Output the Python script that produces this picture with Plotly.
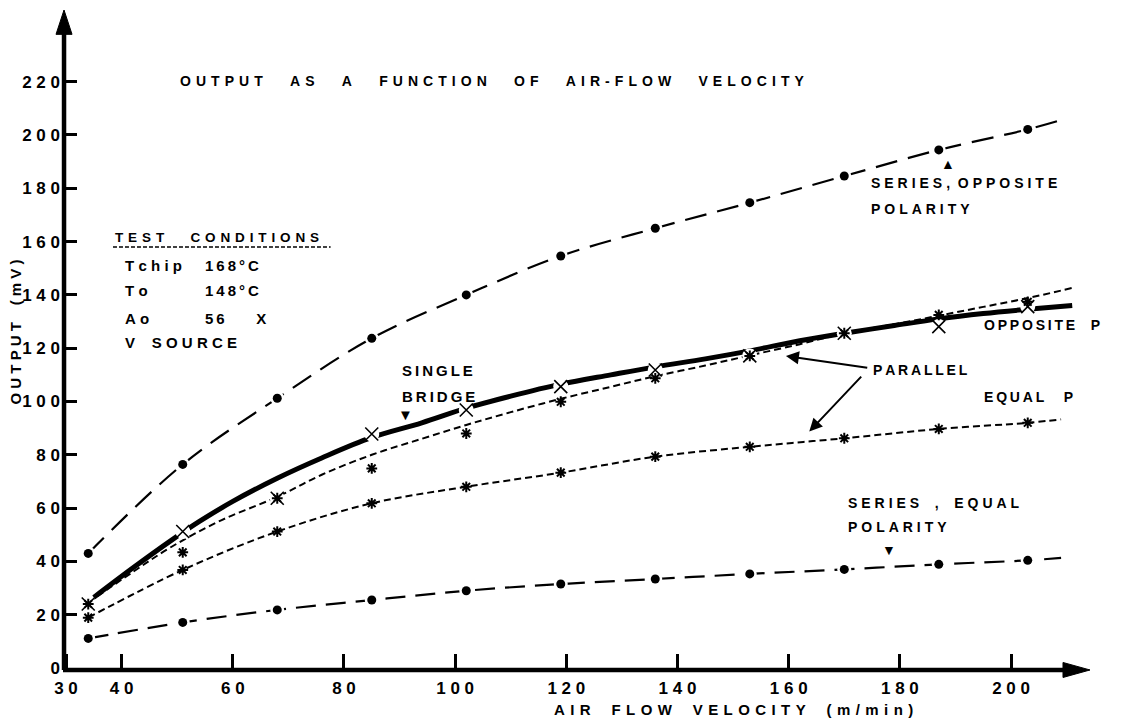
import plotly.graph_objects as go

# ---------------- data ----------------
velocity = [34, 51, 68, 85, 102, 119, 136, 153, 170, 187, 203]

series_opposite = [43.0, 76.4, 101.2, 123.7, 140.0, 154.6, 165.0, 174.6, 184.6, 194.4, 202.1]
series_equal = [11.1, 17.1, 21.8, 25.5, 29.0, 31.5, 33.4, 35.3, 37.0, 38.9, 40.4]
single_bridge = [24.0, 51.2, 63.7, 87.8, 96.8, 105.6, 111.8, 117.1, 125.6, 128.1, 135.6]
parallel_opposite = [24.0, 43.4, 63.7, 74.9, 88.0, 99.9, 108.7, 117.1, 125.6, 132.5, 137.4]
parallel_equal = [18.9, 36.8, 51.2, 61.8, 68.0, 73.3, 79.3, 83.0, 86.2, 89.7, 92.0]

# hand-drawn curves
line_end_x = 209
series_opposite_end = 205.6
series_equal_end = 41.3
parallel_equal_end = 93.3

bridge_curve_x = [35, 42, 49, 54, 60, 68, 76, 85, 94, 102, 110, 119, 128, 136, 145, 153, 162, 170, 179, 187, 195, 203, 211]
bridge_curve_y = [26.5, 37.5, 48.0, 55.0, 62.5, 71.2, 78.8, 86.5, 92.0, 97.5, 102.0, 106.5, 110.0, 113.0, 116.0, 119.0, 122.8, 125.6, 128.5, 131.0, 133.0, 134.6, 136.0]

par_opp_curve_x = [34, 42, 49, 58, 68, 76, 85, 94, 102, 110, 119, 128, 136, 145, 153, 162, 170, 179, 187, 195, 203, 211]
par_opp_curve_y = [24.5, 36.0, 45.5, 55.5, 64.2, 72.5, 80.0, 86.0, 91.2, 96.0, 101.0, 105.5, 109.5, 113.5, 117.3, 121.5, 125.6, 129.0, 132.2, 135.5, 138.8, 142.6]

x_ticks = [30, 40, 60, 80, 100, 120, 140, 160, 180, 200]
y_ticks = [0, 20, 40, 60, 80, 100, 120, 140, 160, 180, 200, 220]

FONT = "Liberation Sans, Arial, sans-serif"
THIN = "\u2009"
HAIR = "\u200a"
NB = "\u00a0"


def spaced(s, gap=THIN, word=NB * 3):
    return word.join(gap.join(list(w)) for w in s.split(" "))


fig = go.Figure()

# --- lines ---
fig.add_trace(go.Scatter(x=velocity + [line_end_x], y=series_opposite + [series_opposite_end],
                         mode="lines", line=dict(color="black", width=2.2, dash="22px,11px", shape="spline"),
                         hoverinfo="skip"))
fig.add_trace(go.Scatter(x=velocity + [line_end_x], y=series_equal + [series_equal_end],
                         mode="lines", line=dict(color="black", width=2.2, dash="20px,10px", shape="spline"),
                         hoverinfo="skip"))
fig.add_trace(go.Scatter(x=velocity + [line_end_x], y=parallel_equal + [parallel_equal_end],
                         mode="lines", line=dict(color="black", width=2, dash="7px,4px", shape="spline"),
                         hoverinfo="skip"))
fig.add_trace(go.Scatter(x=par_opp_curve_x, y=par_opp_curve_y,
                         mode="lines", line=dict(color="black", width=2, dash="7px,4px", shape="spline"),
                         hoverinfo="skip"))
fig.add_trace(go.Scatter(x=bridge_curve_x, y=bridge_curve_y,
                         mode="lines", line=dict(color="black", width=5, shape="spline"),
                         hoverinfo="skip"))

# --- white halos to break the lines at the markers ---
fig.add_trace(go.Scatter(x=velocity, y=single_bridge, mode="markers",
                         marker=dict(symbol="circle", size=15, color="white"), hoverinfo="skip"))
fig.add_trace(go.Scatter(x=velocity, y=series_opposite, mode="markers",
                         marker=dict(symbol="circle", size=14, color="white"), hoverinfo="skip"))
fig.add_trace(go.Scatter(x=velocity, y=series_equal, mode="markers",
                         marker=dict(symbol="circle", size=14, color="white"), hoverinfo="skip"))

# --- markers ---
fig.add_trace(go.Scatter(x=velocity, y=series_opposite, mode="markers", name="Series, opposite polarity",
                         marker=dict(symbol="circle", size=9, color="black")))
fig.add_trace(go.Scatter(x=velocity, y=series_equal, mode="markers", name="Series, equal polarity",
                         marker=dict(symbol="circle", size=9, color="black")))
fig.add_trace(go.Scatter(x=velocity, y=parallel_opposite, mode="markers", name="Parallel, opposite P",
                         marker=dict(symbol="asterisk", size=9, line=dict(color="black", width=2))))
fig.add_trace(go.Scatter(x=velocity, y=parallel_equal, mode="markers", name="Parallel, equal P",
                         marker=dict(symbol="asterisk", size=9, line=dict(color="black", width=2))))
fig.add_trace(go.Scatter(x=velocity, y=single_bridge, mode="markers", name="Single bridge",
                         marker=dict(symbol="x-thin", size=13, line=dict(color="black", width=1.6))))

tickfont = dict(family=FONT, size=17, color="black", weight="bold")
fig.update_xaxes(range=[29.46, 214.2], tickvals=x_ticks, ticktext=[spaced(str(v), gap=NB) for v in x_ticks],
                 ticks="inside", ticklen=14, tickwidth=3, tickcolor="black",
                 showgrid=False, zeroline=False, showline=False, tickfont=tickfont,
                 ticklabelstandoff=8)
fig.update_yaxes(range=[0, 246.9], tickvals=y_ticks, ticktext=[spaced(str(v), gap=NB) for v in y_ticks],
                 ticks="inside", ticklen=14, tickwidth=3, tickcolor="black",
                 showgrid=False, zeroline=False, showline=False, tickfont=tickfont,
                 ticklabelstandoff=2)

shapes = [
    dict(type="line", xref="paper", yref="paper", x0=0.001, y0=-0.003, x1=0.001, y1=0.97,
         line=dict(color="black", width=4.5)),
    dict(type="line", xref="paper", yref="paper", x0=0.0, y0=-0.003, x1=0.975, y1=-0.003,
         line=dict(color="black", width=4.5)),
    dict(type="path", xref="paper", yref="paper",
         path="M -0.0068,0.963 L 0.001,1.0 L 0.0088,0.963 Z", fillcolor="black",
         line=dict(color="black", width=1)),
    dict(type="path", xref="paper", yref="paper",
         path="M 0.9737,-0.0144 L 1.0,-0.003 L 0.9737,0.0084 Z", fillcolor="black",
         line=dict(color="black", width=1)),
    # dashed underline of TEST CONDITIONS
    dict(type="line", xref="x", yref="y", x0=38.45, y0=158.0, x1=77.6, y1=158.0,
         line=dict(color="black", width=1.5, dash="4px,2px")),
]

ann = []


def label(text, x, y, size=14, xanchor="left", xref="x", yref="y", angle=0, yanchor="middle"):
    ann.append(dict(text=text, x=x, y=y, xref=xref, yref=yref, xanchor=xanchor, yanchor=yanchor,
                    showarrow=False, textangle=angle,
                    font=dict(family=FONT, size=size, color="black", weight="bold")))


label(spaced("OUTPUT AS A FUNCTION OF AIR-FLOW VELOCITY", gap=NB + HAIR, word=NB * 7), 50.1, 220.3, size=14)
label(spaced("AIR FLOW VELOCITY (m/min)", gap=NB + HAIR, word=NB * 5), 150.0, -0.0638, size=15,
      xanchor="center", yref="paper")
label(spaced("OUTPUT (mV)", gap=NB, word=NB * 4), -0.0462, 126.1, size=15, xanchor="center",
      xref="paper", angle=-90)

label(spaced("TEST CONDITIONS", gap=NB + HAIR, word=NB * 7), 38.45, 161.4, size=13.5)
cond_names = ["Tchip", "To", "Ao", "V SOURCE"]
cond_vals = ["168°C", "148°C", "56" + NB * 4 + "X", ""]
cond_y = [151.2, 141.8, 131.3, 122.0]
for n, v, yy in zip(cond_names, cond_vals, cond_y):
    label(spaced(n, gap=THIN + HAIR, word=NB * 4), 40.25, yy, size=15)
    if v:
        label(spaced(v), 54.6, yy, size=15)

label(spaced("SINGLE"), 90.1, 111.8, size=15)
label(spaced("BRIDGE"), 90.1, 101.7, size=15)
label("▼", 91.0, 95.3, size=15, xanchor="center")

label(spaced("SERIES,", gap=THIN + HAIR) + NB * 2 + spaced("OPPOSITE", gap=THIN + HAIR), 174.4, 182.0, size=14)
label(spaced("POLARITY", gap=THIN + HAIR), 174.4, 172.2, size=14)
label("▲", 188.6, 189.0, size=14, xanchor="center")

label(spaced("OPPOSITE P", word=NB * 4), 194.7, 128.7, size=14)
label(spaced("PARALLEL"), 174.8, 111.8, size=14)
label(spaced("EQUAL P", word=NB * 5), 194.7, 101.7, size=14)

label(spaced("SERIES", gap=THIN + HAIR) + NB * 4 + "," + NB * 4 + spaced("EQUAL", gap=THIN + HAIR),
      170.3, 61.9, size=14)
label(spaced("POLARITY", gap=THIN + HAIR), 170.3, 52.9, size=14)
label("▼", 178.0, 44.2, size=14, xanchor="center")

# arrows from PARALLEL
for (tx, ty, hx, hy) in [(174.4, 112.6, 159.5, 117.1), (173.3, 109.9, 163.7, 88.7)]:
    ann.append(dict(x=hx, y=hy, ax=tx, ay=ty, xref="x", yref="y", axref="x", ayref="y",
                    text="", showarrow=True, arrowhead=2, arrowsize=1.3, arrowwidth=2,
                    arrowcolor="black"))

# the page has an 8 px body margin: size and margins compensate for it
fig.update_layout(width=1119, height=714, margin=dict(l=55, r=37, t=2, b=54),
                  paper_bgcolor="white", plot_bgcolor="white", showlegend=False,
                  shapes=shapes, annotations=ann)

fig.write_html("out.html")
